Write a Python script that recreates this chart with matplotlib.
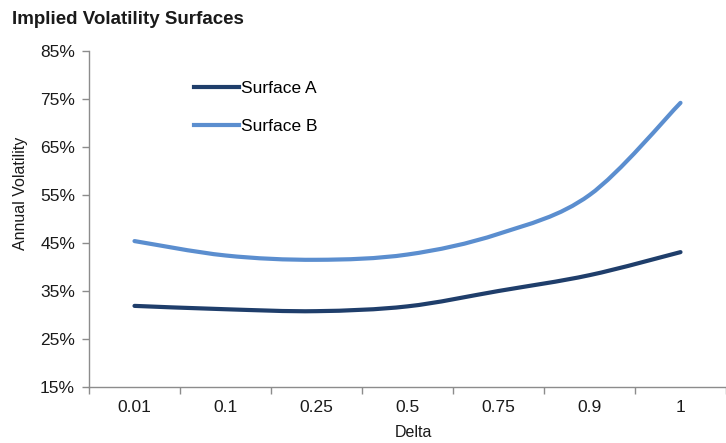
import numpy as np
from matplotlib import pyplot as plt
from matplotlib.path import Path
from matplotlib.patches import PathPatch
from matplotlib.lines import Line2D
from matplotlib.ticker import FuncFormatter

#======================================================================================================
# Data
deltas    = ["0.01", "0.1", "0.25", "0.5", "0.75", "0.9", "1"]
surface_a = [31.9, 31.2, 30.8, 31.8, 35.0, 38.3, 43.1]
surface_b = [45.4, 42.4, 41.5, 42.6, 46.9, 55.0, 74.2]

color_a = "#1F3E6B"
color_b = "#5B8ECF"
axis_color = "#8C8C8C"
text_color = "#1a1a1a"

plt.rcParams['font.family'] = ['Liberation Sans', 'DejaVu Sans']

#======================================================================================================

def smooth_path(x, y):
    # Excel style smoothed line: cubic bezier segments through the data points
    pts = np.column_stack([x, y]).astype(float)
    n = len(pts)
    verts = [pts[0]]
    codes = [Path.MOVETO]
    for i in range(n - 1):
        p0 = pts[i - 1] if i > 0 else pts[i]
        p1 = pts[i]
        p2 = pts[i + 1]
        p3 = pts[i + 2] if i + 2 < n else pts[i + 1]
        c1 = p1 + (p2 - p0) / 6
        c2 = p2 - (p3 - p1) / 6
        verts += [c1, c2, p2]
        codes += [Path.CURVE4] * 3
    return Path(verts, codes)


def draw_chart():
    fig = plt.figure(figsize=[7.26, 4.43], dpi=100)
    ax = fig.add_axes([89 / 726, 56 / 443, 637 / 726, 336 / 443])

    x = np.arange(len(deltas))
    for vals, col in [(surface_a, color_a), (surface_b, color_b)]:
        patch = PathPatch(smooth_path(x, vals), facecolor='none', edgecolor=col,
                          lw=3, capstyle='round', joinstyle='round')
        ax.add_patch(patch)

    ax.set_xlim(-0.5, -0.5 + 637 / 92)
    ax.set_ylim(15, 85)
    ax.set_yticks(np.arange(15, 86, 10))
    ax.yaxis.set_major_formatter(FuncFormatter(lambda v, p: "%d%%" % v))

    ax.set_xticks(x)
    ax.set_xticklabels(deltas)
    ax.set_xticks(np.arange(-0.5, len(deltas), 1), minor=True)
    ax.tick_params(axis='x', which='major', length=0, pad=9, labelsize=12.5, labelcolor=text_color)
    ax.tick_params(axis='x', which='minor', length=5, width=1, color=axis_color, direction='out')
    ax.tick_params(axis='y', length=5, width=1, color=axis_color, pad=5, labelsize=12.5, labelcolor=text_color)

    for s in ['top', 'right']:
        ax.spines[s].set_visible(False)
    for s in ['left', 'bottom']:
        ax.spines[s].set_color(axis_color)
        ax.spines[s].set_linewidth(1)

    ax.set_xlabel("Delta", fontsize=11.5, color=text_color)
    ax.xaxis.set_label_coords(0.51, -0.112)
    ax.set_ylabel("Annual Volatility", fontsize=11.5, color=text_color)
    ax.yaxis.set_label_coords(-0.095, 0.577)

    fig.text(12 / 726, 1 - 20 / 443, "Implied Volatility Surfaces", fontsize=13.5,
             fontweight='bold', va='center', ha='left', color=text_color)

    handles = [Line2D([], [], color=color_a, lw=3), Line2D([], [], color=color_b, lw=3)]
    ax.legend(handles, ["Surface A", "Surface B"], loc='upper left',
              bbox_to_anchor=(194 / 726, 1 - 81 / 443), bbox_transform=fig.transFigure,
              frameon=False, fontsize=12.5, handlelength=2.6, handletextpad=0.12,
              labelspacing=1.3, borderpad=0, borderaxespad=0)

    fig.savefig("out.png", dpi=100)


if __name__ == "__main__":
    draw_chart()
